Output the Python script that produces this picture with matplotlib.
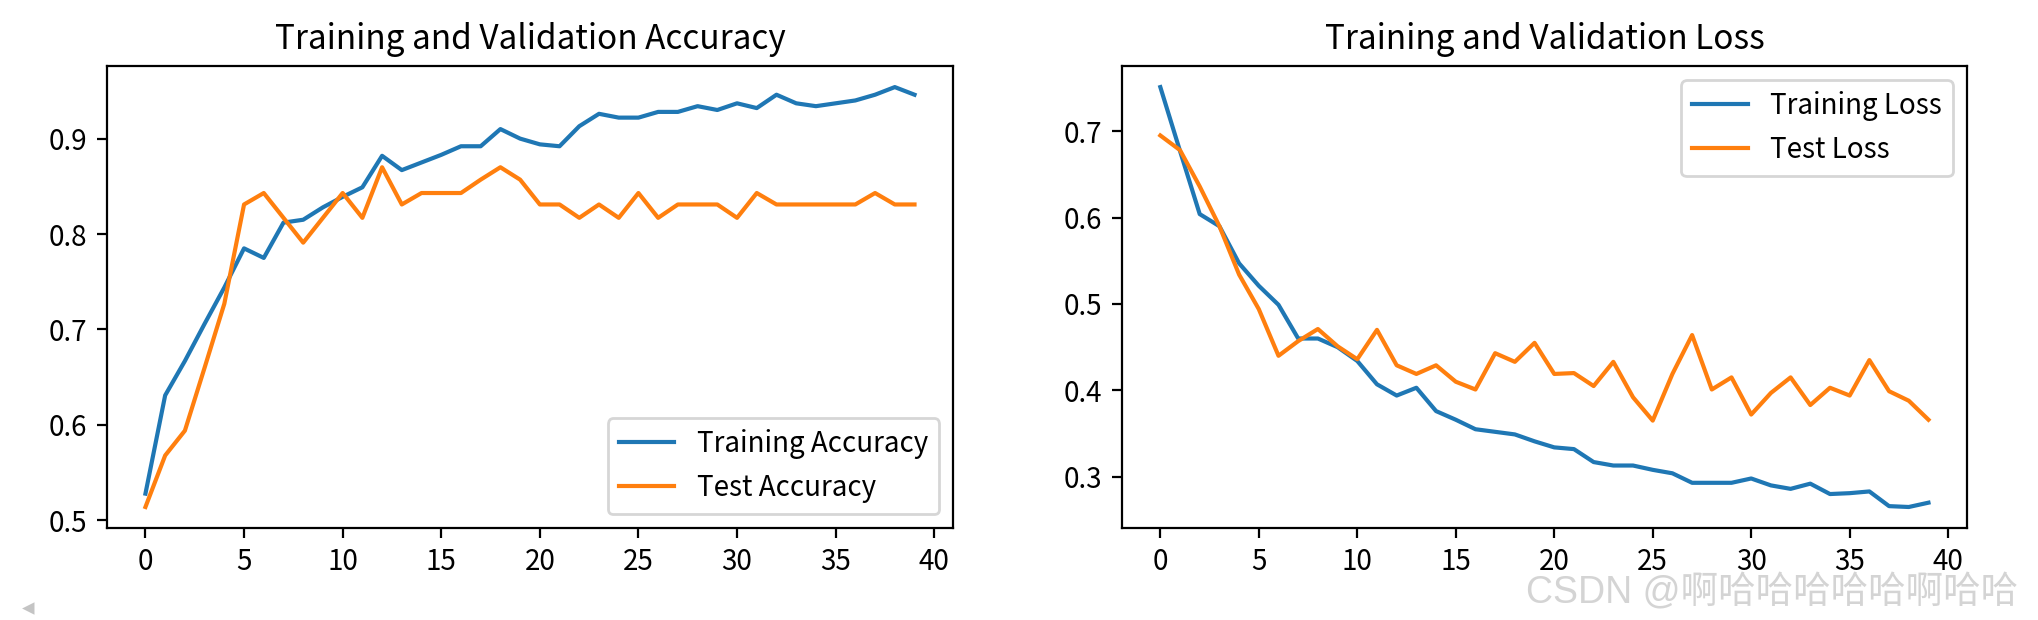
import matplotlib
matplotlib.use("Agg")
import matplotlib.pyplot as plt
import numpy as np

plt.rcParams['font.family'] = ['Noto Sans CJK SC', 'DejaVu Sans']

epochs = list(range(40))

train_acc = [0.528, 0.631, 0.667, 0.706, 0.744, 0.785, 0.775, 0.812, 0.815, 0.828,
             0.839, 0.849, 0.882, 0.867, 0.875, 0.883, 0.892, 0.892, 0.910, 0.900,
             0.894, 0.892, 0.913, 0.926, 0.922, 0.922, 0.928, 0.928, 0.934, 0.930,
             0.937, 0.932, 0.946, 0.937, 0.934, 0.937, 0.940, 0.946, 0.954, 0.946]
test_acc = [0.514, 0.568, 0.594, 0.660, 0.727, 0.831, 0.843, 0.817, 0.791, 0.817,
            0.843, 0.817, 0.870, 0.831, 0.843, 0.843, 0.843, 0.857, 0.870, 0.857,
            0.831, 0.831, 0.817, 0.831, 0.817, 0.843, 0.817, 0.831, 0.831, 0.831,
            0.817, 0.843, 0.831, 0.831, 0.831, 0.831, 0.831, 0.843, 0.831, 0.831]

train_loss = [0.751, 0.677, 0.604, 0.590, 0.547, 0.521, 0.499, 0.460, 0.460, 0.450,
              0.434, 0.407, 0.394, 0.403, 0.376, 0.366, 0.355, 0.352, 0.349, 0.341,
              0.334, 0.332, 0.317, 0.313, 0.313, 0.308, 0.304, 0.293, 0.293, 0.293,
              0.298, 0.290, 0.286, 0.292, 0.280, 0.281, 0.283, 0.266, 0.265, 0.270]
test_loss = [0.695, 0.678, 0.636, 0.590, 0.534, 0.494, 0.440, 0.457, 0.471, 0.451,
             0.436, 0.470, 0.429, 0.419, 0.429, 0.410, 0.401, 0.443, 0.433, 0.455,
             0.419, 0.420, 0.405, 0.433, 0.392, 0.365, 0.419, 0.464, 0.401, 0.415,
             0.372, 0.397, 0.415, 0.383, 0.403, 0.394, 0.435, 0.399, 0.388, 0.366]

acc_title = "Training and Validation Accuracy"
loss_title = "Training and Validation Loss"
acc_labels = ["Training Accuracy", "Test Accuracy"]
loss_labels = ["Training Loss", "Test Loss"]
watermark = "CSDN @啊哈哈哈哈哈啊哈哈"

dpi = 200
fig = plt.figure(figsize=(2038 / dpi, 620 / dpi), dpi=dpi)
ax1 = fig.add_axes([0.0525, 0.1484, 0.4151, 0.745])
ax2 = fig.add_axes([0.5505, 0.1484, 0.4146, 0.745])

ax1.plot(epochs, train_acc, label=acc_labels[0])
ax1.plot(epochs, test_acc, label=acc_labels[1])
ax1.legend(loc='lower right')
ax1.set_title(acc_title)
ax1.set_xticks([0, 5, 10, 15, 20, 25, 30, 35, 40])

ax2.plot(epochs, train_loss, label=loss_labels[0])
ax2.plot(epochs, test_loss, label=loss_labels[1])
ax2.legend(loc='upper right')
ax2.set_title(loss_title)
ax2.set_xticks([0, 5, 10, 15, 20, 25, 30, 35, 40])

fig.text(2018 / 2038, 0.043, watermark, ha='right', va='center', fontsize=13.5,
         color='#d4d4d4', family=['Liberation Sans', 'Noto Sans CJK SC'])
fig.text(22 / 2038, 0.0, '\u25c2', ha='left', va='bottom', fontsize=9,
         color='#c4c4c4', family=['DejaVu Sans'])

fig.savefig('out.png', dpi=dpi)
